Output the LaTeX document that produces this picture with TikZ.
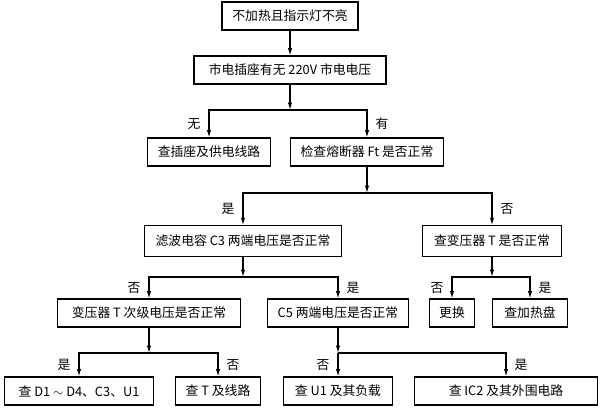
\documentclass[tikz,border=0pt]{standalone}
\usepackage{fontspec}
\setmainfont{Noto Sans CJK SC}
\usetikzlibrary{arrows.meta}
\begin{document}
\begin{tikzpicture}[x=0.75pt,y=-0.75pt,
  font=\fontsize{9.6}{11}\selectfont,
  box/.style={draw,line width=0.8pt,minimum height=21pt,inner sep=2pt},
  lbl/.style={inner sep=1pt,font=\fontsize{9.6}{11}\selectfont},
  >={Latex[length=5.5pt,width=3.2pt]},
  every path/.style={line width=0.8pt}]
  \useasboundingbox (0,0) rectangle (600,411);
  % boxes
  \node[box,minimum width=102pt] (top) at (290,16) {不加热且指示灯不亮};
  \node[box,minimum width=144pt] (mains) at (290,70) {市电插座有无 220V 市电电压};
  \node[box,minimum width=92pt] (socket) at (209,152) {查插座及供电线路};
  \node[box,minimum width=115pt] (fuse) at (367,152) {检查熔断器 Ft 是否正常};
  \node[box,minimum width=148pt,minimum height=23pt] (filter) at (243,241) {滤波电容 C3 两端电压是否正常};
  \node[box,minimum width=104pt,minimum height=23pt] (trans) at (492,241) {查变压器 T 是否正常};
  \node[box,minimum width=137pt] (second) at (149,313) {变压器 T 次级电压是否正常};
  \node[box,minimum width=106pt] (cfive) at (338,313) {C5 两端电压是否正常};
  \node[box,minimum width=34pt] (change) at (452,313) {更换};
  \node[box,minimum width=56pt] (heater) at (530,313) {查加热盘};
  \node[box,minimum width=112pt] (diode) at (79,391) {查 D1 $\sim$ D4、C3、U1};
  \node[box,minimum width=64pt] (tline) at (218,391) {查 T 及线路};
  \node[box,minimum width=82pt] (uone) at (338,391) {查 U1 及其负载};
  \node[box,minimum width=137pt] (ictwo) at (506,391) {查 IC2 及其外围电路};
  % junctions
  \coordinate (j1) at (290,110);
  \coordinate (j2) at (367,193);
  \coordinate (j3) at (243,277);
  \coordinate (j4) at (492,277);
  \coordinate (j5) at (149,353);
  \coordinate (j6) at (338,353);
  % connectors
  \draw[->] (top) -- (mains);
  \draw[->] (mains) -- (j1);
  \draw[->] (j1) -| node[lbl,pos=0.75,left=5pt] (lwu) {无} (socket);
  \draw[->] (j1) -| node[lbl,pos=0.75,right=5pt] (lyou) {有} (fuse);
  \draw[->] (fuse) -- (j2);
  \draw[->] (j2) -| node[lbl,pos=0.75,left=5pt] (lshi1) {是} (filter);
  \draw[->] (j2) -| node[lbl,pos=0.75,right=5pt] (lfou1) {否} (trans);
  \draw[->] (filter) -- (j3);
  \draw[->] (j3) -| node[lbl,pos=0.75,left=5pt] (lfou2) {否} (second);
  \draw[->] (j3) -| node[lbl,pos=0.75,right=5pt] (lshi2) {是} (cfive);
  \draw[->] (trans) -- (j4);
  \draw[->] (j4) -| node[lbl,pos=0.75,left=5pt] (lfou3) {否} (change);
  \draw[->] (j4) -| node[lbl,pos=0.75,right=5pt] (lshi3) {是} (heater);
  \draw[->] (second) -- (j5);
  \draw[->] (j5) -| node[lbl,pos=0.75,left=5pt] (lshi4) {是} (diode);
  \draw[->] (j5) -| node[lbl,pos=0.75,right=5pt] (lfou4) {否} (tline);
  \draw[->] (cfive) -- (j6);
  \draw[->] (j6) -- node[lbl,pos=0.5,left=5pt] (lfou5) {否} (uone);
  \draw[->] (j6) -| node[lbl,pos=0.75,right=5pt] (lshi5) {是} (ictwo);
\end{tikzpicture}
\end{document}
